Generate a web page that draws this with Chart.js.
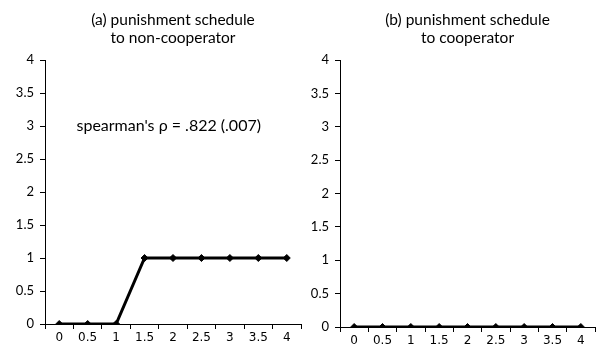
<!DOCTYPE html>
<html><head><meta charset="utf-8">
<script src="https://cdn.jsdelivr.net/npm/chart.js@4/dist/chart.umd.min.js"></script>
<style>
html,body{margin:0;padding:0;background:#fff;}
#wrap{position:relative;width:600px;height:352px;}
#c1{position:absolute;left:0;top:0;}
#c2{position:absolute;left:306px;top:0;}
</style></head>
<body><div id="wrap">
<canvas id="c1" width="306" height="352"></canvas>
<canvas id="c2" width="294" height="352"></canvas>
</div>
<script>
const categories = ['0','0.5','1','1.5','2','2.5','3','3.5','4'];
const nonCooperator = [0,0,0,1,1,1,1,1,1];
const cooperator = [0,0,0,0,0,0,0,0,0];
const yTicks = [0,0.5,1,1.5,2,2.5,3,3.5,4];
const titleA = ['(a) punishment schedule','to non-cooperator'];
const titleB = ['(b) punishment schedule','to cooperator'];
const annotation = "spearman's \u03C1 = .822 (.007)";

const overlay = {
  id:'overlay',
  afterDraw(chart, args, opts){
    const ctx = chart.ctx, a = chart.chartArea;
    ctx.save();
    ctx.fillStyle = '#000';
    ctx.textAlign = 'center';
    ctx.textBaseline = 'middle';
    ctx.font = '15.5px Lato, "Open Sans", sans-serif';
    const cx = (a.left + a.right)/2;
    opts.lines.forEach((l,i)=>ctx.fillText(l, cx, opts.titleY + i*18));
    if (opts.note){
      ctx.font = '16px Lato, "Open Sans", sans-serif';
      const y = chart.scales.y.getPixelForValue(3);
      ctx.fillText(opts.note, chart.scales.x.getPixelForValue(3.85), y);
    }
    ctx.restore();
  }
};

function make(id, data, lines, note, yw, xh, padTop, padRight){
  return new Chart(document.getElementById(id), {
    type:'line',
    data:{labels:categories, datasets:[{data:data, borderColor:'#000', backgroundColor:'#000',
      borderWidth:3, pointStyle:'rectRot', pointRadius:3.5, pointBorderWidth:1, tension:0}]},
    options:{
      responsive:false, animation:false,
      layout:{padding:{top:padTop, right:padRight, left:0, bottom:0}},
      plugins:{legend:{display:false}, tooltip:{enabled:false}, title:{display:false},
        overlay:{lines:lines, note:note, titleY:20}},
      scales:{
        x:{offset:true, grid:{display:true, offset:true, drawOnChartArea:false, drawTicks:true, tickLength:5, color:'#000'},
           border:{display:true, color:'#000', width:1},
           ticks:{color:'#000', font:{family:'"DejaVu Sans", Verdana, sans-serif', size:12}, maxRotation:0, autoSkip:false, padding:2},
           afterFit(s){ s.height = xh; }},
        y:{min:0, max:4, afterBuildTicks(s){ s.ticks = yTicks.map(v=>({value:v})); },
           grid:{display:true, drawOnChartArea:false, drawTicks:true, tickLength:5, color:'#000'},
           border:{display:true, color:'#000', width:1},
           ticks:{color:'#000', font:{family:'Lato, "Open Sans", sans-serif', size:13}, padding:6,
             callback:(v)=>String(v)},
           afterFit(s){ s.width = yw; }}
      }
    },
    plugins:[overlay]
  });
}
make('c1', nonCooperator, titleA, annotation, 45, 28, 60, 0);
make('c2', cooperator, titleB, null, 34, 25, 60, 2);
</script></body></html>
